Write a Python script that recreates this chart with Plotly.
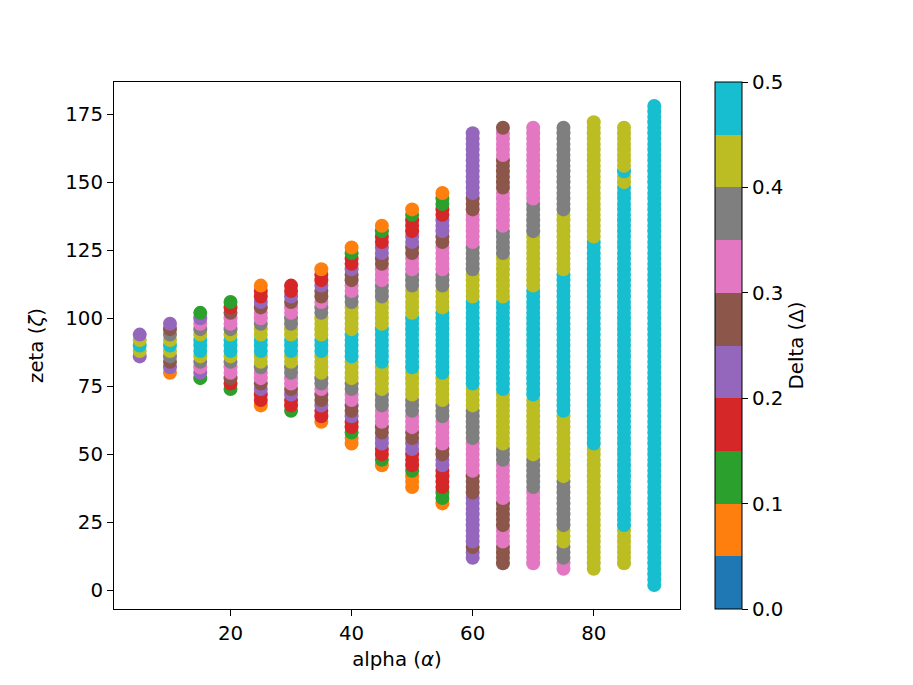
import plotly.graph_objects as go

# Delta values by colour band (tab10 bins of width 0.05 over 0..0.5)
ORANGE, GREEN, RED, PURPLE, BROWN = 0.075, 0.125, 0.175, 0.225, 0.275
PINK, GRAY, OLIVE, CYAN = 0.325, 0.375, 0.425, 0.475

ALPHA = [5, 10, 15, 20, 25, 30, 35, 40, 45, 50, 55, 60, 65, 70, 75, 80, 85, 90]

# runs of equal colour in each column: (zeta_high, zeta_low, delta), points every 2 in zeta
col_05 = [(94, 94, PURPLE), (92, 92, OLIVE), (90, 90, CYAN), (88, 88, OLIVE), (86, 86, PURPLE)]
col_10 = [(98, 98, PURPLE), (96, 96, BROWN), (94, 94, GRAY), (92, 92, OLIVE), (90, 90, CYAN),
          (88, 88, OLIVE), (86, 86, GRAY), (84, 84, BROWN), (82, 82, PURPLE), (80, 80, ORANGE)]
col_15 = [(102, 102, GREEN), (100, 100, PURPLE), (98, 98, PINK), (96, 96, GRAY), (94, 94, OLIVE),
          (92, 88, CYAN), (86, 86, OLIVE), (84, 84, GRAY), (82, 82, PINK), (80, 80, PURPLE), (78, 78, GREEN)]
col_20 = [(106, 106, GREEN), (104, 104, RED), (102, 102, BROWN), (100, 98, PINK), (96, 96, GRAY),
          (94, 94, OLIVE), (92, 88, CYAN), (86, 86, OLIVE), (84, 84, GRAY), (82, 80, PINK),
          (78, 78, BROWN), (76, 76, RED), (74, 74, GREEN)]
col_25 = [(112, 112, ORANGE), (110, 108, RED), (106, 106, PURPLE), (104, 104, BROWN), (102, 100, PINK),
          (98, 98, GRAY), (96, 94, OLIVE), (92, 88, CYAN), (86, 84, OLIVE), (82, 82, GRAY),
          (80, 78, PINK), (76, 76, BROWN), (74, 74, PURPLE), (72, 70, RED), (68, 68, ORANGE)]
col_30 = [(112, 110, RED), (108, 108, PURPLE), (106, 106, BROWN), (104, 102, PINK), (100, 98, GRAY),
          (96, 94, OLIVE), (92, 88, CYAN), (86, 84, OLIVE), (82, 80, GRAY), (78, 76, PINK),
          (74, 74, BROWN), (72, 72, PURPLE), (70, 68, RED), (66, 66, GREEN)]
col_35 = [(118, 118, ORANGE), (116, 114, RED), (112, 112, PURPLE), (110, 108, BROWN), (106, 106, PINK),
          (104, 102, GRAY), (100, 94, OLIVE), (92, 88, CYAN), (86, 80, OLIVE), (78, 76, GRAY),
          (74, 74, PINK), (72, 70, BROWN), (68, 68, PURPLE), (66, 64, RED), (62, 62, ORANGE)]
col_40 = [(126, 126, ORANGE), (124, 124, GREEN), (122, 120, RED), (118, 118, PURPLE), (116, 114, BROWN),
          (112, 110, PINK), (108, 106, GRAY), (104, 96, OLIVE), (94, 86, CYAN), (84, 78, OLIVE),
          (76, 74, GRAY), (72, 70, PINK), (68, 66, BROWN), (64, 64, PURPLE), (62, 60, RED),
          (58, 58, GREEN), (56, 54, ORANGE)]
col_45 = [(134, 134, ORANGE), (132, 132, GREEN), (130, 128, RED), (126, 124, PURPLE), (122, 120, BROWN),
          (118, 114, PINK), (112, 108, GRAY), (106, 98, OLIVE), (96, 84, CYAN), (82, 74, OLIVE),
          (72, 68, GRAY), (66, 62, PINK), (60, 58, BROWN), (56, 54, PURPLE), (52, 50, RED),
          (48, 48, GREEN), (46, 46, ORANGE)]
col_50 = [(140, 140, ORANGE), (138, 138, GREEN), (136, 132, RED), (130, 128, PURPLE), (126, 124, BROWN),
          (122, 118, PINK), (116, 112, GRAY), (110, 102, OLIVE), (100, 82, CYAN), (80, 72, OLIVE),
          (70, 66, GRAY), (64, 60, PINK), (58, 56, BROWN), (54, 52, PURPLE), (50, 46, RED),
          (44, 44, GREEN), (42, 38, ORANGE)]
col_55 = [(146, 146, ORANGE), (144, 142, GREEN), (140, 138, RED), (136, 132, PURPLE), (130, 128, BROWN),
          (126, 118, PINK), (116, 112, GRAY), (110, 104, OLIVE), (102, 80, CYAN), (78, 70, OLIVE),
          (68, 64, GRAY), (62, 54, PINK), (52, 50, BROWN), (48, 46, PURPLE), (44, 38, RED),
          (36, 34, GREEN), (32, 32, ORANGE)]
col_60 = [(168, 146, PURPLE), (144, 140, BROWN), (138, 128, PINK), (126, 118, GRAY), (116, 108, OLIVE),
          (106, 76, CYAN), (74, 68, OLIVE), (66, 56, GRAY), (54, 44, PINK), (42, 36, BROWN),
          (34, 18, PURPLE), (16, 16, BROWN), (14, 12, PURPLE)]
col_65 = [(170, 170, BROWN), (168, 160, PINK), (158, 148, BROWN), (146, 134, PINK), (132, 124, GRAY),
          (122, 108, OLIVE), (106, 74, CYAN), (72, 54, OLIVE), (52, 48, GRAY), (46, 34, PINK),
          (32, 24, BROWN), (22, 18, PINK), (16, 10, BROWN)]
col_70 = [(170, 144, PINK), (142, 132, GRAY), (130, 112, OLIVE), (110, 72, CYAN), (70, 50, OLIVE),
          (48, 38, GRAY), (36, 10, PINK)]
col_75 = [(170, 140, GRAY), (138, 118, OLIVE), (116, 66, CYAN), (64, 42, OLIVE), (40, 24, GRAY),
          (22, 18, OLIVE), (16, 12, GRAY), (10, 8, PINK)]
col_80 = [(172, 130, OLIVE), (128, 54, CYAN), (52, 8, OLIVE)]
col_85 = [(170, 156, OLIVE), (154, 154, CYAN), (152, 150, OLIVE), (148, 24, CYAN), (22, 10, OLIVE)]
col_90 = [(178, 2, CYAN)]

COLUMNS = [col_05, col_10, col_15, col_20, col_25, col_30, col_35, col_40, col_45,
           col_50, col_55, col_60, col_65, col_70, col_75, col_80, col_85, col_90]

CB_TICKS = [0.0, 0.1, 0.2, 0.3, 0.4, 0.5]
X_TICKS = [20, 40, 60, 80]
Y_TICKS = [0, 25, 50, 75, 100, 125, 150, 175]

TAB10 = ["#1f77b4", "#ff7f0e", "#2ca02c", "#d62728", "#9467bd",
         "#8c564b", "#e377c2", "#7f7f7f", "#bcbd22", "#17becf"]

xs, ys, cs = [], [], []
for a, runs in zip(ALPHA, COLUMNS):
    pts = []
    for hi, lo, d in runs:
        for z in range(lo, hi + 1, 2):
            pts.append((z, d))
    pts.sort()
    for z, d in pts:
        xs.append(a)
        ys.append(z)
        cs.append(d)

scale = []
for i, c in enumerate(TAB10):
    scale.append([i / 10, c])
    scale.append([(i + 1) / 10, c])

FONT = "DejaVu Sans"
FS = 19.8
TFONT = dict(family=FONT, size=FS, color="black")

fig = go.Figure(go.Scatter(
    x=xs, y=ys, mode="markers",
    marker=dict(
        size=14, color=cs, cmin=0, cmax=0.5, colorscale=scale,
        line=dict(width=0),
        colorbar=dict(
            x=1.062, xanchor="left", xpad=0, ypad=0,
            y=0.5, yanchor="middle", len=1, lenmode="fraction",
            thickness=27, thicknessmode="pixels",
            outlinewidth=1, outlinecolor="black",
            tickvals=CB_TICKS, ticktext=[f"{t:.1f}" for t in CB_TICKS],
            ticks="outside", ticklen=6, tickwidth=1, tickcolor="black",
            tickfont=TFONT,
            title=dict(text="Delta (Δ)", side="right", font=TFONT),
        ),
    ),
    showlegend=False,
))

axis_common = dict(
    showgrid=False, zeroline=False, showline=True, linecolor="black", linewidth=1,
    mirror=True, ticks="outside", ticklen=6, tickwidth=1, tickcolor="black",
    tickfont=TFONT,
)

fig.update_layout(
    width=913, height=685,
    margin=dict(l=106, r=241, t=74, b=84),
    paper_bgcolor="white", plot_bgcolor="white",
    font=TFONT,
    xaxis=dict(range=[0.75, 94.25], tickvals=X_TICKS,
               title=dict(text="alpha (<i>α</i>)", standoff=8, font=TFONT), **axis_common),
    yaxis=dict(range=[-6.8, 186.8], tickvals=Y_TICKS,
               title=dict(text="zeta (<i>ζ</i>)", standoff=16, font=TFONT), **axis_common),
)

fig.write_html("out.html")
